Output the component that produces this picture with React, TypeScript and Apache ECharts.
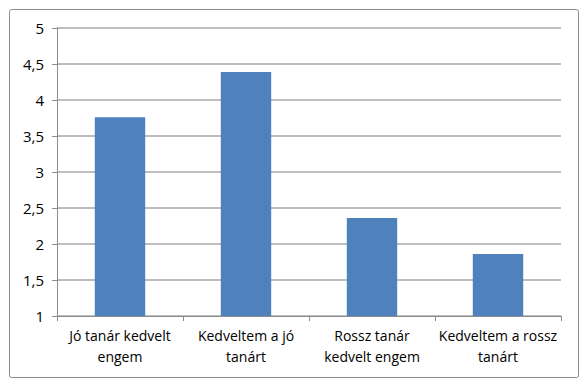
import React, { useEffect, useRef } from "react";
import * as echarts from "echarts";

const categories = [
  "Jó tanár kedvelt\nengem",
  "Kedveltem a jó\ntanárt",
  "Rossz tanár\nkedvelt engem",
  "Kedveltem a rossz\ntanárt",
];
const values = [3.76, 4.39, 2.36, 1.86];

export default function App() {
  const ref = useRef<HTMLDivElement>(null);
  useEffect(() => {
    const chart = echarts.init(ref.current!, null, { renderer: "svg" });
    chart.setOption({
      animation: false,
      backgroundColor: "#ffffff",
      graphic: [
        {
          type: "rect",
          shape: { x: 9.5, y: 9.5, width: 569, height: 368, r: 2 },
          style: { fill: "none", stroke: "#8c8c8c", lineWidth: 1 },
          silent: true,
        },
      ],
      grid: { left: 57, right: 25, top: 28, bottom: 71 },
      xAxis: {
        type: "category",
        data: categories,
        axisLine: { show: true, lineStyle: { color: "#8c8c8c", width: 1 } },
        axisTick: { show: true, length: 5, lineStyle: { color: "#8c8c8c" } },
        axisLabel: {
          color: "#000",
          fontFamily: "Open Sans",
          fontSize: 14,
          lineHeight: 21,
          margin: 9,
          interval: 0,
        },
      },
      yAxis: {
        type: "value",
        min: 1,
        max: 5,
        interval: 0.5,
        axisLine: { show: true, lineStyle: { color: "#8c8c8c", width: 1 } },
        axisTick: { show: true, length: 5, lineStyle: { color: "#8c8c8c" } },
        splitLine: { show: true, lineStyle: { color: "#a8a8a8", width: 1.5 } },
        axisLabel: {
          color: "#000",
          fontFamily: "Open Sans",
          fontSize: 15,
          margin: 13,
          formatter: (v: number) => String(v).replace(".", ","),
        },
      },
      series: [
        {
          type: "bar",
          data: values,
          barWidth: "40%",
          itemStyle: { color: "#4f81bd" },
        },
      ],
    });
    return () => chart.dispose();
  }, []);
  return (
    <div
      ref={ref}
      style={{ position: "fixed", left: 0, top: 0, width: 586, height: 387 }}
    />
  );
}
